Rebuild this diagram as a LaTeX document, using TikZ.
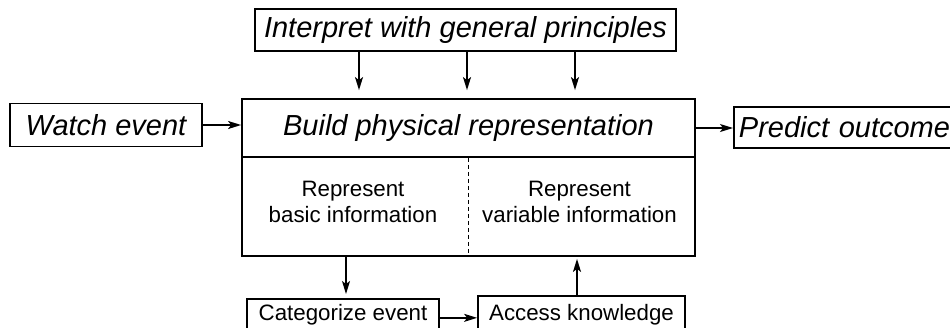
\documentclass[tikz,border=0pt]{standalone}
\usepackage{fontspec}
\setmainfont{Liberation Sans}
\usetikzlibrary{arrows.meta}

\begin{document}
\begin{tikzpicture}[x=1pt,y=-1pt,line width=1.8pt,
	box/.style={draw,rectangle,inner sep=0pt,font=\fontsize{29}{34}\selectfont\itshape},
	sbox/.style={draw,rectangle,inner sep=0pt,anchor=north,font=\fontsize{22.3}{26}\selectfont},
	txt/.style={align=center,inner sep=0pt,font=\fontsize{22.3}{26}\selectfont},
	arr/.style={line width=1.4pt,-{Stealth[length=13pt,width=8pt,inset=3pt]}}]
			\useasboundingbox (0,0) rectangle (950,327);
			\node[box,minimum width=421,minimum height=42] (Int)at(465.5,30) {Interpret with general principles};
			\node[box,minimum width=192,minimum height=43] (Watch)at(106,125) {Watch event};
			\node[box,minimum width=453,minimum height=58] (Build)at(468.5,128) {Build physical representation};
			\node[draw,rectangle,minimum width=453,minimum height=99] (Repr)at(468.5,206.5) {};
			\node[box,anchor=west,inner xsep=5pt,text width=215,align=left,minimum height=41] (Pred)at(733,127.5) {Predict outcome};
			\node[txt] (Basic)at(353,202) {Represent\\basic information};
			\node[txt] (Var)at(579.5,202) {Represent\\variable information};
			\node[sbox,minimum width=192,minimum height=44,text depth=17pt] (Cat)at(343,298) {Categorize event};
			\node[sbox,minimum width=207,minimum height=48,text depth=15.3pt] (Acc)at(581.5,295) {Access knowledge};
			\coordinate (p1) at (359,0);
			\coordinate (p2) at (467,0);
			\coordinate (p3) at (575,0);
			\coordinate (p4) at (346,0);
			\coordinate (p5) at (577,0);
			\draw[line width=1pt,dash pattern=on 4pt off 3pt] (Build.south) -- (Repr.south);
			\draw[arr,shorten >=8pt] (Int.south -| p1) -- (Build.north -| p1);
			\draw[arr,shorten >=8pt] (Int.south -| p2) -- (Build.north -| p2);
			\draw[arr,shorten >=8pt] (Int.south -| p3) -- (Build.north -| p3);
			\draw[arr] (Watch.east) -- (Watch.east -| Build.west);
			\draw[arr] (Build.east) -- (Build.east -| Pred.west);
			\draw[arr,shorten >=4pt] (Repr.south -| p4) -- (Cat.north -| p4);
			\draw[arr,shorten >=2pt] (Acc.north -| p5) -- (Repr.south -| p5);
			\draw[arr] (Cat.mid east) -- (Cat.mid east -| Acc.west);
		\end{tikzpicture}
\end{document}
